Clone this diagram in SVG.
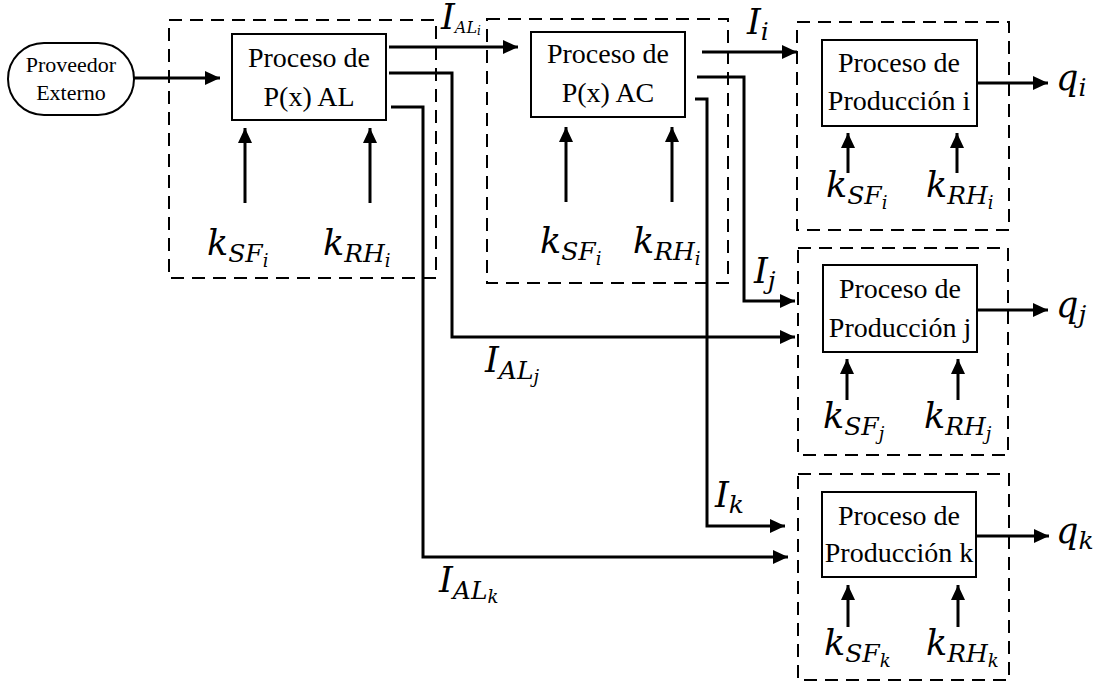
<svg xmlns="http://www.w3.org/2000/svg" width="1103" height="685" viewBox="0 0 1103 685">
<defs>
<style>
.dash{fill:none;stroke:#000;stroke-width:2;stroke-dasharray:13 8}
.box{fill:#fff;stroke:#000;stroke-width:2}
.t{font-family:'Liberation Serif','Times New Roman',serif;font-size:28px;fill:#000;text-anchor:middle}
.pv{font-family:'Liberation Serif','Times New Roman',serif;font-size:22px;fill:#000;text-anchor:middle}
.m{font-family:'DejaVu Serif',serif;font-style:italic;font-size:35px;fill:#000}
.s1{font-size:25px}
.s2{font-size:18px}
.ln{fill:none;stroke:#000;stroke-width:3}
</style>
<marker id="ah" markerUnits="userSpaceOnUse" markerWidth="16" markerHeight="14" refX="15" refY="7" orient="auto">
<path d="M0,0 L15,7 L0,14 z" fill="#000"/>
</marker>
</defs>
<rect width="1103" height="685" fill="#fff"/>

<g id="groups">
<rect class="dash" x="169" y="20" width="267" height="258"/>
<rect class="dash" x="487" y="19" width="241" height="264"/>
<rect class="dash" x="797" y="22" width="212" height="208"/>
<rect class="dash" x="798" y="248" width="210" height="207"/>
<rect class="dash" x="798" y="474" width="211" height="206"/>
</g>

<g id="proveedor">
<rect class="box" x="8" y="43" width="126" height="72" rx="36" ry="36" stroke-width="1.5"/>
<text class="pv" x="71" y="72">Proveedor</text>
<text class="pv" x="71" y="100">Externo</text>
</g>

<g id="proceso-al">
<rect class="box" x="232" y="34" width="154" height="86"/>
<text class="t" x="309" y="67">Proceso de</text>
<text class="t" x="309" y="106">P(x) AL</text>
</g>

<g id="proceso-ac">
<rect class="box" x="531" y="32" width="154" height="85"/>
<text class="t" x="608" y="63">Proceso de</text>
<text class="t" x="608" y="102">P(x) AC</text>
</g>

<g id="produccion-i">
<rect class="box" x="822" y="40" width="155" height="86"/>
<text class="t" x="899" y="72">Proceso de</text>
<text class="t" x="899" y="110">Producción i</text>
</g>

<g id="produccion-j">
<rect class="box" x="823" y="265" width="154" height="87"/>
<text class="t" x="900" y="298">Proceso de</text>
<text class="t" x="900" y="337">Producción j</text>
</g>

<g id="produccion-k">
<rect class="box" x="822" y="492" width="154" height="85"/>
<text class="t" x="899" y="525">Proceso de</text>
<text class="t" x="899" y="562">Producción k</text>
</g>

<g id="connectors">
<path class="ln" d="M134,78 H220" marker-end="url(#ah)"/>
<path class="ln" d="M389,47 H518" marker-end="url(#ah)"/>
<path class="ln" d="M389,73 H452 V337 H795" marker-end="url(#ah)"/>
<path class="ln" d="M391,107 H423 V557 H788" marker-end="url(#ah)"/>
<path class="ln" d="M702,52 H797" marker-end="url(#ah)"/>
<path class="ln" d="M697,77 H744 V301 H795" marker-end="url(#ah)"/>
<path class="ln" d="M695,99 H707 V526 H785" marker-end="url(#ah)"/>
<path class="ln" d="M977,83 H1048" marker-end="url(#ah)"/>
<path class="ln" d="M977,310 H1048" marker-end="url(#ah)"/>
<path class="ln" d="M977,536 H1049" marker-end="url(#ah)"/>
<path class="ln" d="M245,203 V128" marker-end="url(#ah)"/>
<path class="ln" d="M370,203 V128" marker-end="url(#ah)"/>
<path class="ln" d="M566,202 V127" marker-end="url(#ah)"/>
<path class="ln" d="M672,202 V127" marker-end="url(#ah)"/>
<path class="ln" d="M848,173 V133" marker-end="url(#ah)"/>
<path class="ln" d="M957,173 V133" marker-end="url(#ah)"/>
<path class="ln" d="M847,400 V359" marker-end="url(#ah)"/>
<path class="ln" d="M958,400 V359" marker-end="url(#ah)"/>
<path class="ln" d="M848,627 V585" marker-end="url(#ah)"/>
<path class="ln" d="M958,627 V585" marker-end="url(#ah)"/>
</g>

<g id="labels">
<text class="m" x="207" y="255">k<tspan class="s1" dy="7">SF</tspan><tspan class="s2" dy="5">i</tspan></text>
<text class="m" x="323" y="255">k<tspan class="s1" dy="7">RH</tspan><tspan class="s2" dy="5">i</tspan></text>
<text class="m" x="540" y="253">k<tspan class="s1" dy="7">SF</tspan><tspan class="s2" dy="5">i</tspan></text>
<text class="m" x="633" y="253">k<tspan class="s1" dy="7">RH</tspan><tspan class="s2" dy="5">i</tspan></text>
<text class="m" x="826" y="197">k<tspan class="s1" dy="7">SF</tspan><tspan class="s2" dy="5">i</tspan></text>
<text class="m" x="926" y="197">k<tspan class="s1" dy="7">RH</tspan><tspan class="s2" dy="5">i</tspan></text>
<text class="m" x="823" y="428">k<tspan class="s1" dy="7">SF</tspan><tspan class="s2" dy="5">j</tspan></text>
<text class="m" x="924" y="428">k<tspan class="s1" dy="7">RH</tspan><tspan class="s2" dy="5">j</tspan></text>
<text class="m" x="824" y="655">k<tspan class="s1" dy="7">SF</tspan><tspan class="s2" dy="5">k</tspan></text>
<text class="m" x="926" y="655">k<tspan class="s1" dy="7">RH</tspan><tspan class="s2" dy="5">k</tspan></text>
<text class="m" x="441" y="29" font-size="24">I<tspan font-size="16" dy="4">AL</tspan><tspan font-size="12" dy="2">i</tspan></text>
<text class="m" x="747" y="34">I<tspan class="s1" dy="6">i</tspan></text>
<text class="m" x="754" y="283">I<tspan class="s1" dy="6">j</tspan></text>
<text class="m" x="715" y="507">I<tspan class="s1" dy="6">k</tspan></text>
<text class="m" x="485" y="372">I<tspan class="s1" dy="7">AL</tspan><tspan class="s2" dy="4">j</tspan></text>
<text class="m" x="439" y="592">I<tspan class="s1" dy="7">AL</tspan><tspan class="s2" dy="4">k</tspan></text>
<text class="m" x="1056" y="90">q<tspan class="s1" dy="6">i</tspan></text>
<text class="m" x="1056" y="317">q<tspan class="s1" dy="6">j</tspan></text>
<text class="m" x="1056" y="543">q<tspan class="s1" dy="6">k</tspan></text>
</g>
</svg>
